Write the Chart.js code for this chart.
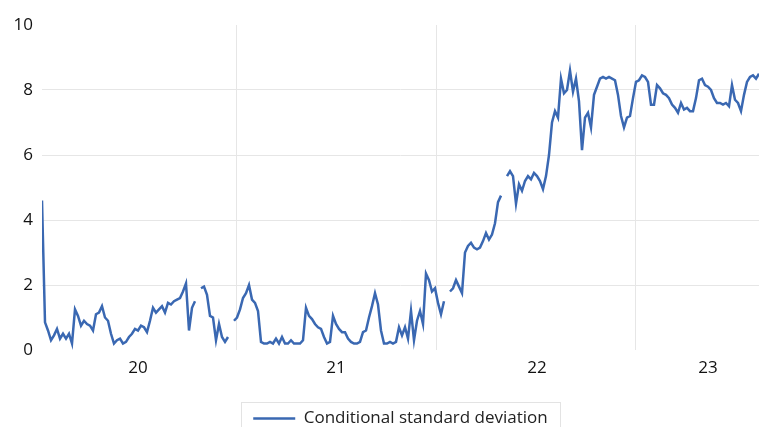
<!DOCTYPE html>
<html>
<head>
<meta charset="utf-8">
<script src="https://cdn.jsdelivr.net/npm/chart.js@4"></script>
<style>
  html, body { margin: 0; padding: 0; background: #fff; }
  #wrap { width: 759px; height: 427px; }
</style>
</head>
<body>
<div id="wrap"><canvas id="sdChart"></canvas></div>
<script>
const startYear = 2020.03;
const stepYears = 0.015;
const seriesLabel = 'Conditional standard deviation';

// one reading every ~3 px along the time axis, null = missing data
const sdValues = [
  4.6, 0.85, 0.6, 0.3, 0.45, 0.65, 0.35, 0.5, 0.35, 0.5,
  0.2, 1.25, 1.05, 0.75, 0.9, 0.8, 0.75, 0.6, 1.1, 1.15,
  1.35, 1.0, 0.9, 0.5, 0.2, 0.3, 0.35, 0.2, 0.25, 0.4,
  0.5, 0.65, 0.6, 0.75, 0.7, 0.55, 0.9, 1.3, 1.15, 1.25,
  1.35, 1.15, 1.45, 1.4, 1.5, 1.55, 1.6, 1.8, 2.05, 0.6,
  1.3, 1.5, null, 1.9, 1.95, 1.7, 1.05, 1.0, 0.3, 0.8,
  0.4, 0.25, 0.4, null, 0.9, 1.0, 1.25, 1.6, 1.75, 2.0,
  1.55, 1.45, 1.2, 0.25, 0.2, 0.2, 0.25, 0.2, 0.35, 0.2,
  0.4, 0.2, 0.2, 0.3, 0.2, 0.2, 0.2, 0.3, 1.3, 1.05,
  0.95, 0.8, 0.7, 0.65, 0.4, 0.2, 0.25, 1.05, 0.8, 0.65,
  0.55, 0.55, 0.35, 0.25, 0.2, 0.2, 0.25, 0.55, 0.6, 1.0,
  1.35, 1.75, 1.4, 0.6, 0.2, 0.2, 0.25, 0.2, 0.25, 0.7,
  0.45, 0.7, 0.35, 1.2, 0.3, 0.9, 1.2, 0.8, 2.35, 2.15,
  1.8, 1.9, 1.45, 1.1, 1.5, null, 1.8, 1.9, 2.15, 1.95,
  1.75, 3.0, 3.2, 3.3, 3.15, 3.1, 3.15, 3.35, 3.6, 3.4,
  3.55, 3.9, 4.55, 4.75, null, 5.35, 5.5, 5.35, 4.5, 5.1,
  4.9, 5.2, 5.35, 5.25, 5.45, 5.35, 5.2, 4.95, 5.35, 6.0,
  7.0, 7.35, 7.15, 8.35, 7.9, 8.0, 8.6, 7.95, 8.35, 7.65,
  6.15, 7.15, 7.3, 6.85, 7.85, 8.1, 8.35, 8.4, 8.35, 8.4,
  8.35, 8.3, 7.85, 7.2, 6.85, 7.15, 7.2, 7.75, 8.25, 8.3,
  8.45, 8.4, 8.25, 7.55, 7.55, 8.15, 8.05, 7.9, 7.85, 7.75,
  7.55, 7.45, 7.3, 7.6, 7.4, 7.45, 7.35, 7.35, 7.75, 8.3,
  8.35, 8.15, 8.1, 8.0, 7.75, 7.6, 7.6, 7.55, 7.6, 7.5,
  8.15, 7.7, 7.6, 7.35, 7.85, 8.25, 8.4, 8.45, 8.35, 8.5
];

const yearLabels = ['20', '21', '22', '23'];
const labelYears = [2020.51, 2021.5, 2022.505, 2023.36];
const yearBoundaries = [2021, 2022, 2023];

const points = sdValues.map((v, i) => ({ x: startYear + i * stepYears, y: v }));
const endYear = startYear + (sdValues.length - 1) * stepYears;

// frame around the legend item, like the original export
const legendFrame = {
  id: 'legendFrame',
  afterDraw(chart) {
    const box = chart.legend.legendHitBoxes[0];
    if (!box) return;
    const ctx = chart.ctx;
    const cy = box.top + box.height / 2;
    ctx.save();
    ctx.strokeStyle = '#e3e3e3';
    ctx.lineWidth = 1;
    ctx.strokeRect(Math.round(box.left - 12) + 0.5, Math.round(cy - 17) + 0.5,
      Math.round(box.width + 24), 40);
    ctx.restore();
  }
};

new Chart(document.getElementById('sdChart'), {
  type: 'line',
  data: {
    datasets: [{
      label: seriesLabel,
      data: points,
      borderColor: '#3a68b2',
      backgroundColor: '#3a68b2',
      borderWidth: 2.5,
      pointRadius: 0,
      tension: 0,
      spanGaps: false
    }]
  },
  options: {
    responsive: true,
    maintainAspectRatio: false,
    animation: false,
    layout: { padding: { top: 25, right: 0, left: 0, bottom: -10 } },
    plugins: {
      tooltip: { enabled: false },
      legend: {
        position: 'bottom',
        fullSize: false,
        labels: {
          usePointStyle: true,
          pointStyle: 'line',
          pointStyleWidth: 42,
          boxHeight: 17,
          padding: 9,
          color: '#222',
          font: { family: 'Open Sans', size: 17 }
        }
      }
    },
    scales: {
      x: {
        type: 'linear',
        min: startYear,
        max: endYear,
        afterBuildTicks: (scale) => {
          scale.ticks = yearBoundaries.concat(labelYears)
            .sort((a, b) => a - b)
            .map(v => ({ value: v }));
        },
        afterFit: (scale) => { scale.height = 51; },
        border: { display: false },
        grid: {
          drawTicks: false,
          lineWidth: 1,
          color: (c) => (c.tick && yearBoundaries.includes(c.tick.value)) ? '#e6e6e6' : 'rgba(0,0,0,0)'
        },
        ticks: {
          autoSkip: false,
          maxRotation: 0,
          padding: 8,
          color: '#111',
          font: { family: 'Open Sans', size: 17 },
          callback: (value) => {
            const k = labelYears.indexOf(value);
            return k >= 0 ? yearLabels[k] : '';
          }
        }
      },
      y: {
        min: 0,
        max: 10,
        afterFit: (scale) => { scale.width = 42; },
        border: { display: false },
        grid: {
          drawTicks: false,
          color: (c) => (c.tick && (c.tick.value === 0 || c.tick.value === 10)) ? 'rgba(0,0,0,0)' : '#e6e6e6'
        },
        ticks: {
          stepSize: 2,
          padding: 9,
          color: '#111',
          font: { family: 'Open Sans', size: 17 }
        }
      }
    }
  },
  plugins: [legendFrame]
});
</script>
</body>
</html>
